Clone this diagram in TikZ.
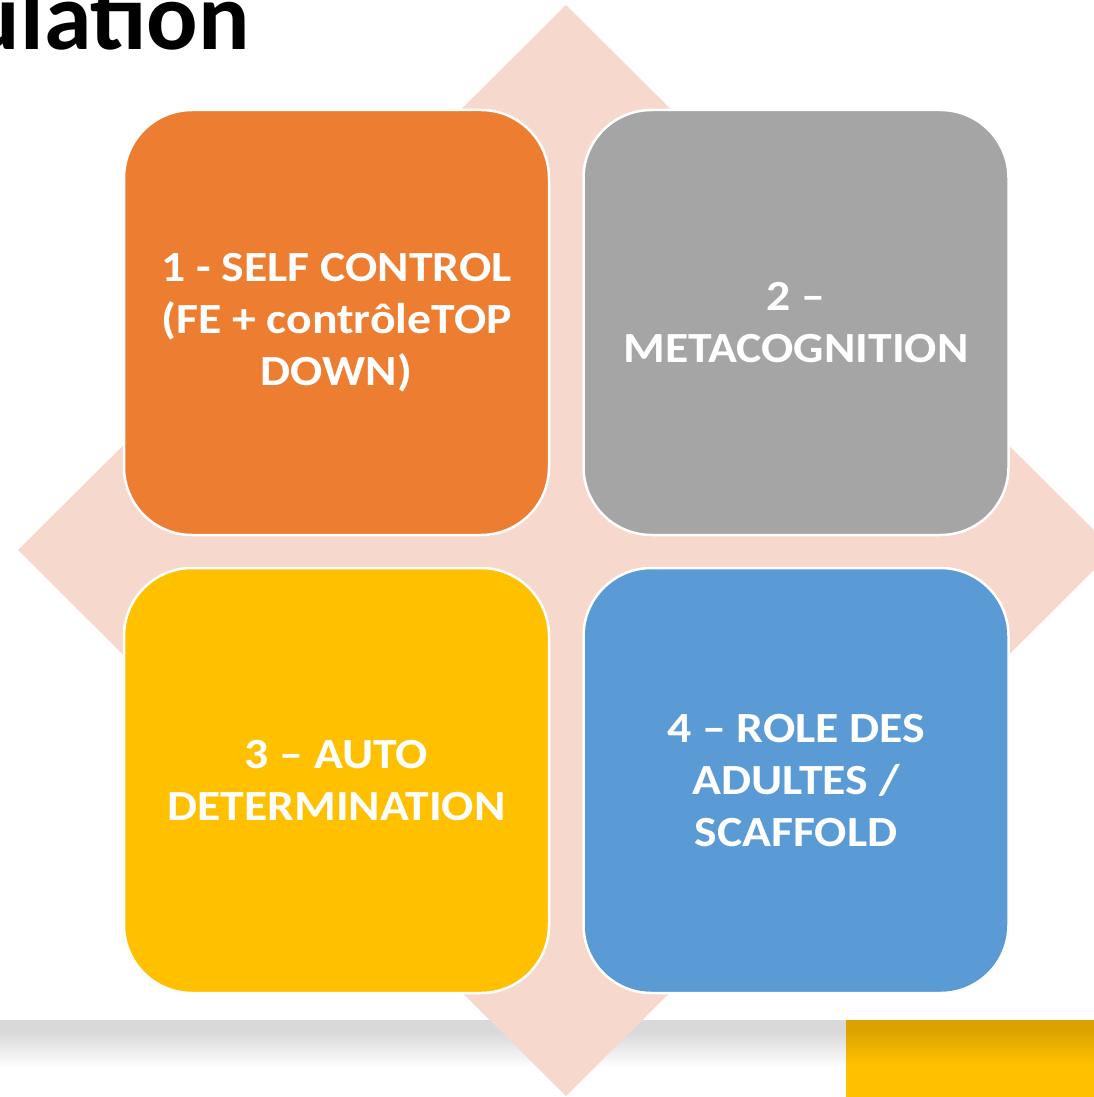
\documentclass[tikz,border=0pt]{standalone}
\usepackage{fontspec}
\setmainfont{Carlito}
\newfontfamily\boxfont[FakeStretch=1.11]{Carlito}
\definecolor{boxOrange}{HTML}{ED7D31}
\definecolor{boxGray}{HTML}{A5A5A5}
\definecolor{boxYellow}{HTML}{FFC000}
\definecolor{boxBlue}{HTML}{5B9BD5}
\definecolor{diamondPink}{HTML}{F7D8CD}
\definecolor{barGray}{HTML}{D9D9D9}
\definecolor{barGoldDark}{HTML}{DAA300}
\definecolor{barGold}{HTML}{FFC000}
\tikzset{
  quadbox/.style={draw=white, line width=2.5pt, rounded corners=68pt,
    minimum width=425pt, minimum height=425pt, inner sep=0pt,
    text=white, align=center,
    font=\boxfont\bfseries\fontsize{43}{52}\selectfont},
  titletext/.style={anchor=base east, inner sep=0pt,
    font=\bfseries\fontsize{96}{110}\selectfont, text=black}
}
\begin{document}
\begin{tikzpicture}[x=1pt,y=-1pt]
\useasboundingbox (0,0) rectangle (1094,1097);
\clip (0,0) rectangle (1094,1097);
\fill[white] (0,0) rectangle (1094,1097);
% bottom bars
\fill[barGray] (0,1020) rectangle (846,1032);
\shade[top color=barGray, bottom color=white] (0,1032) rectangle (846,1068);
\fill[barGoldDark] (846,1020) rectangle (1094,1030);
\shade[top color=barGoldDark, bottom color=barGold] (846,1030) rectangle (1094,1064);
\fill[barGold] (846,1064) rectangle (1094,1097);
% diamond
\fill[diamondPink] (566,5) -- (1114,550) -- (566,1096) -- (18,550) -- cycle;
% boxes
\node[quadbox, fill=boxOrange] (selfcontrol) at (336.5,322.5)
  {1 - SELF CONTROL\\(FE + contrôleTOP\\DOWN)};
\node[quadbox, fill=boxGray] (metacog) at (796,322.5)
  {2 –\\METACOGNITION};
\node[quadbox, fill=boxYellow] (autodet) at (336.5,780.5)
  {3 – AUTO\\DETERMINATION};
\node[quadbox, fill=boxBlue] (roleadultes) at (796,780.5)
  {4 – ROLE DES\\ADULTES /\\SCAFFOLD};
% title fragment
\node[titletext] (title) at (250,50) {ulation};
\end{tikzpicture}
\end{document}
